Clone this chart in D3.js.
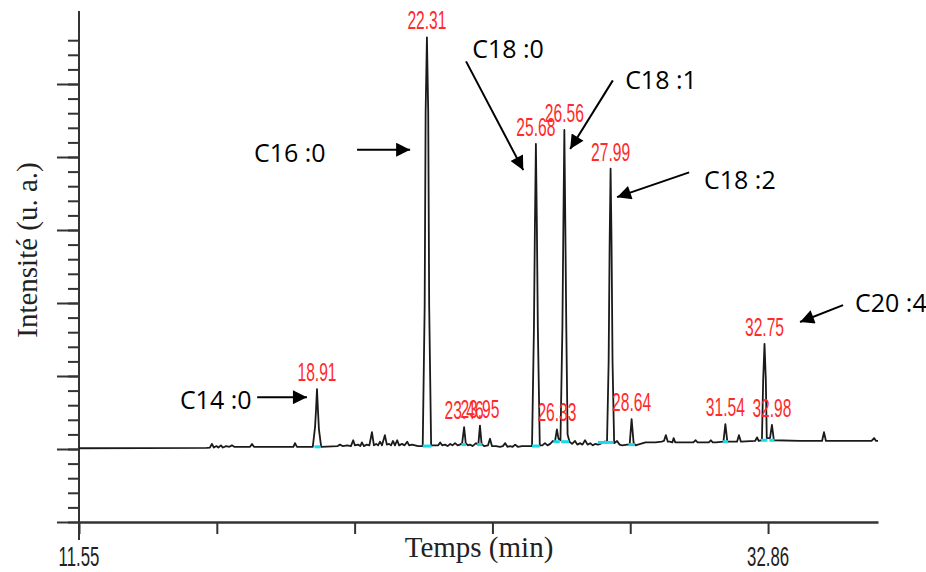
<!DOCTYPE html>
<html>
<head>
<meta charset="utf-8">
<title>Chromatogramme</title>
<script src="https://d3js.org/d3.v7.min.js"></script>
<style>
  body { margin: 0; background: #fff; }
  .rt { font-family: "Liberation Sans", Arial, sans-serif; font-size: 26px; fill: #ff2a2a; }
  .tk { font-family: "Liberation Sans", Arial, sans-serif; font-size: 28px; fill: #222; }
  .ttl { font-family: "Liberation Serif", "Times New Roman", serif; font-size: 29px; fill: #222; }
  .ann { font-family: "Open Sans", "Noto Sans", sans-serif; font-size: 25px; fill: #000; }
</style>
</head>
<body>
<svg id="chart" width="926" height="572"></svg>
<script>
// axis ticks (retention time, min)
const rtTicks = [11.55, 15.812, 20.074, 24.336, 28.598, 32.86];
const rtTickLabels = ["11.55", "", "", "", "", "32.86"];
const yMajor = [-10, 0, 10, 20, 30, 40, 50];
const yMinor = d3.range(-10, 57, 2);

// chromatogram trace: [time (min), intensity (a.u.)]
const trace = [
  [11.55,0.1],[15.50,0.15],[15.60,0.2],[15.66,0.7],[15.72,0.2],[15.80,0.4],[15.86,0.2],[15.94,0.5],[16.00,0.2],[16.10,0.4],[16.20,0.3],[16.28,0.5],[16.35,0.3],[16.84,0.3],[16.90,0.7],[16.96,0.3],
  [18.18,0.3],[18.23,0.8],[18.29,0.3],[18.78,0.3],[18.85,3.0],[18.88,5.3],[18.91,8.2],[18.94,5.3],[18.97,2.7],[19.04,0.3],
  [19.55,0.4],[19.62,0.6],[19.70,0.4],[19.85,0.5],[19.96,0.4],[20.03,1.2],[20.08,0.5],[20.18,0.6],[20.25,0.4],[20.30,0.9],[20.36,0.4],[20.45,0.6],[20.53,0.5],[20.61,2.3],[20.67,0.5],[20.74,0.7],[20.80,0.5],[20.86,1.0],[20.92,0.5],[21.01,1.9],[21.07,0.6],[21.14,0.7],[21.20,0.5],[21.26,1.1],[21.32,0.5],[21.39,1.2],[21.45,0.5],[21.54,0.7],[21.62,0.5],[21.70,1.0],[21.76,0.5],[21.85,0.6],[22.04,0.4],[22.18,0.4],
  [22.24,19.5],[22.27,46.2],[22.31,56.4],[22.35,46.2],[22.38,19.5],[22.44,0.5],
  [22.66,0.5],[22.72,0.9],[22.78,0.5],[22.87,0.6],[22.95,0.4],[23.03,0.7],[23.10,0.5],[23.18,0.8],[23.26,0.5],[23.33,0.6],[23.40,0.8],[23.46,3.0],[23.51,0.8],[23.58,0.5],[23.64,0.6],[23.72,0.4],[23.83,0.8],[23.90,0.6],[23.95,3.2],[24.00,0.7],[24.08,0.4],[24.20,0.5],[24.26,1.4],[24.32,0.4],[24.45,0.4],[24.57,0.3],[24.66,0.4],[24.73,0.8],[24.80,0.3],[24.88,0.4],[24.96,0.3],[25.04,0.6],[25.12,0.3],[25.25,0.4],[25.44,0.4],[25.56,0.4],
  [25.62,16.7],[25.65,30.7],[25.68,41.8],[25.71,30.7],[25.74,16.7],[25.80,0.5],
  [25.88,0.5],[25.96,0.8],[26.04,0.5],[26.12,0.7],[26.21,1.1],[26.27,1.0],[26.33,2.7],[26.38,1.4],[26.44,1.2],
  [26.50,16.7],[26.53,30.7],[26.56,43.7],[26.59,30.7],[26.62,16.7],[26.66,2.0],[26.72,1.0],
  [26.80,0.7],[26.89,1.1],[26.96,0.6],[27.05,0.8],[27.12,0.6],[27.20,1.2],[27.28,0.6],[27.36,0.8],[27.44,0.5],[27.51,0.7],[27.60,0.6],[27.67,0.7],[27.79,1.0],[27.88,1.0],
  [27.93,12],[27.96,28],[27.99,38.4],[28.02,28],[28.05,12],[28.10,0.8],
  [28.19,1.1],[28.27,0.6],[28.35,0.5],[28.50,0.6],[28.58,0.6],[28.64,4.1],[28.70,0.9],[28.76,0.5],
  [29.07,0.9],[29.38,0.9],[29.57,1.0],[29.64,1.1],[29.70,1.9],[29.76,1.0],[29.82,1.0],[29.90,0.9],[29.94,1.5],[29.99,0.9],[30.07,0.9],[30.55,0.9],[30.62,1.2],[30.68,0.9],[30.78,0.9],[31.03,0.9],[31.09,1.2],[31.15,0.9],[31.25,0.9],[31.48,1.0],[31.54,3.4],[31.60,1.0],[31.90,1.0],[31.96,1.9],[32.02,1.0],[32.46,1.1],[32.52,1.6],[32.57,1.1],[32.67,1.2],
  [32.71,9.6],[32.75,14.4],[32.79,9.6],[32.82,1.5],[32.92,1.5],[32.98,3.3],[33.04,1.2],
  [33.85,1.1],[34.53,1.1],[34.59,2.3],[34.65,1.1],[35.71,1.1],[36.06,1.1],[36.14,1.5],[36.20,1.1],[36.26,1.1]
];

// labelled peaks
const peakRT = [18.91, 22.31, 23.46, 23.95, 25.68, 26.33, 26.56, 27.99, 28.64, 31.54, 32.75, 32.98];
const peakHeight = [8.2, 56.4, 3.0, 3.2, 41.8, 2.7, 43.7, 38.4, 4.1, 3.4, 14.4, 3.3];
const peakText = ["18.91", "22.31", "23.46", "23.95", "25.68", "26.33", "26.56", "27.99", "28.64", "31.54", "32.75", "32.98"];

// integration marks under peaks: [start, end, level]
const cyanMarks = [[18.83,19.02,0.3],[22.18,22.45,0.4],[23.38,23.52,0.6],[23.86,24.02,0.6],[25.56,25.80,0.4],[26.22,26.42,1.0],[26.46,26.70,1.0],[27.60,28.08,0.9],[28.54,28.74,0.6],[31.46,31.62,1.0],[32.64,32.84,1.2],[32.90,33.06,1.2]];

// fatty acid annotations (data coords)
const annName = ["C14 :0", "C16 :0", "C18 :0", "C18 :1", "C18 :2", "C20 :4"];
const annText = [[14.67,5.5],[16.96,39.3],[23.71,53.6],[28.44,49.3],[30.88,35.6],[35.55,18.8]];
const annTail = [[17.06,7.1],[20.15,41.0],[23.52,53.1],[28.06,50.5],[30.42,37.9],[35.18,19.7]];
const annTip  = [[18.60,7.1],[21.79,41.0],[25.29,38.2],[26.74,41.1],[28.19,34.5],[33.85,17.4]];

const svg = d3.select("#chart");
const x = d3.scaleLinear().domain([11.55, 36.26]).range([79, 878]);
const y = d3.scaleLinear().domain([-10, 60]).range([522, 11]);

svg.append("defs").append("marker")
  .attr("id", "head").attr("viewBox", "0 0 10 10")
  .attr("refX", 10).attr("refY", 5)
  .attr("markerWidth", 8.5).attr("markerHeight", 7)
  .attr("markerUnits", "strokeWidth").attr("orient", "auto")
  .append("path").attr("d", "M0,0 L10,5 L0,10 z").attr("fill", "#000");

// y axis
const gy = svg.append("g").attr("transform", "translate(79,0)");
gy.call(d3.axisLeft(y).tickValues(yMinor).tickSize(11).tickSizeOuter(0).tickFormat(""));
gy.append("g").call(d3.axisLeft(y).tickValues(yMajor).tickSize(22).tickSizeOuter(0).tickFormat(""));
gy.selectAll("path.domain").remove();
gy.selectAll("line").attr("stroke", "#333").attr("stroke-width", 2);
svg.append("line").attr("x1", 79).attr("x2", 79).attr("y1", y(60)).attr("y2", y(-10) + 18)
  .attr("stroke", "#333").attr("stroke-width", 2);

// x axis
const gx = svg.append("g").attr("transform", "translate(0," + y(-10) + ")");
gx.call(d3.axisBottom(x).tickValues(rtTicks).tickSize(12).tickSizeOuter(0).tickFormat(""));
gx.select("path.domain").attr("stroke", "#333").attr("stroke-width", 2.5);
gx.selectAll("line").attr("stroke", "#333").attr("stroke-width", 2);
svg.append("g").selectAll("text").data(rtTicks).join("text")
  .attr("class", "tk").attr("text-anchor", "middle")
  .attr("transform", d => "translate(" + x(d) + ",566) scale(0.6,1)")
  .text((d, i) => rtTickLabels[i]);

// titles
svg.append("text").attr("class", "ttl").attr("text-anchor", "middle")
  .attr("x", 479).attr("y", 557).text("Temps (min)");
svg.append("text").attr("class", "ttl").attr("text-anchor", "middle")
  .attr("transform", "translate(37,250) rotate(-90)").text("Intensité (u. a.)");

// trace
svg.append("path").datum(trace)
  .attr("d", d3.line().x(d => x(d[0])).y(d => y(d[1])))
  .attr("fill", "none").attr("stroke", "#1a1a1a").attr("stroke-width", 1.8)
  .attr("stroke-linejoin", "round");

svg.append("g").selectAll("line").data(cyanMarks).join("line")
  .attr("x1", d => x(d[0])).attr("x2", d => x(d[1]))
  .attr("y1", d => y(d[2])).attr("y2", d => y(d[2]))
  .attr("stroke", "#14dcea").attr("stroke-width", 3);

// peak labels
svg.append("g").selectAll("text").data(peakRT).join("text")
  .attr("class", "rt").attr("text-anchor", "middle")
  .attr("transform", (d, i) => "translate(" + x(d) + "," + (y(peakHeight[i]) - 8) + ") scale(0.6,1)")
  .text((d, i) => peakText[i]);

// annotations
const ga = svg.append("g");
ga.selectAll("line").data(annName).join("line")
  .attr("x1", (d, i) => x(annTail[i][0])).attr("y1", (d, i) => y(annTail[i][1]))
  .attr("x2", (d, i) => x(annTip[i][0])).attr("y2", (d, i) => y(annTip[i][1]))
  .attr("stroke", "#000").attr("stroke-width", 2).attr("marker-end", "url(#head)");
ga.selectAll("text").data(annName).join("text")
  .attr("class", "ann")
  .attr("x", (d, i) => x(annText[i][0])).attr("y", (d, i) => y(annText[i][1]))
  .text(d => d);
</script>
</body>
</html>
